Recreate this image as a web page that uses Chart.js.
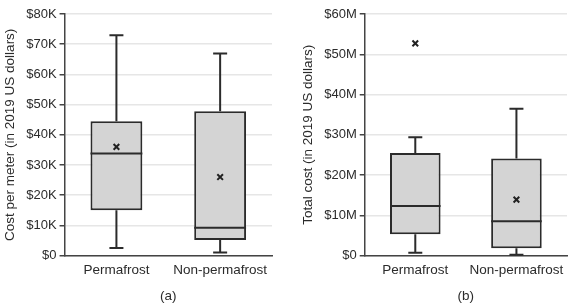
<!DOCTYPE html>
<html>
<head>
<meta charset="utf-8">
<script src="https://cdn.jsdelivr.net/npm/chart.js@4"></script>
<style>
  body { margin: 0; background: #fff; }
  .wrap { position: relative; width: 575px; height: 307px; }
  #chartA { position: absolute; left: 0; top: 0; }
  #chartB { position: absolute; left: 290px; top: 0; }
</style>
</head>
<body>
<div class="wrap">
  <canvas id="chartA" width="290" height="307"></canvas>
  <canvas id="chartB" width="285" height="307"></canvas>
</div>
<script>
const categories = ["Permafrost", "Non-permafrost"];

// (a) cost per meter, dollars
const perMeterMin = [2500, 1000];
const perMeterQ1 = [15000, 5200];
const perMeterMedian = [33800, 9200];
const perMeterQ3 = [44500, 47800];
const perMeterMax = [73000, 66900];
const perMeterMean = [36000, 26000];

// (b) total cost, dollars
const totalMin = [700000, 200000];
const totalQ1 = [5300000, 1800000];
const totalMedian = [12300000, 8500000];
const totalQ3 = [25500000, 24100000];
const totalMax = [29400000, 36500000];
const totalMean = [52700000, 13900000];

const tickLabelsA = ["$0", "$10K", "$20K", "$30K", "$40K", "$50K", "$60K", "$70K", "$80K"];
const tickLabelsB = ["$0", "$10M", "$20M", "$30M", "$40M", "$50M", "$60M"];

const fontFam = "'Liberation Sans', Arial, sans-serif";
const dark = "#2b2b2b";

function makeBoxPlugin(min, median, max) {
  return {
    id: "boxParts",
    beforeDatasetsDraw(chart) {
      const ctx = chart.ctx;
      const y = chart.scales.y;
      const bars = chart.getDatasetMeta(1).data;
      ctx.save();
      ctx.strokeStyle = dark;
      ctx.lineWidth = 2;
      bars.forEach((bar, i) => {
        const top = Math.min(bar.y, bar.base);
        const bot = Math.max(bar.y, bar.base);
        const yMax = y.getPixelForValue(max[i]);
        const yMin = y.getPixelForValue(min[i]);
        ctx.beginPath();
        ctx.moveTo(bar.x, top);
        ctx.lineTo(bar.x, yMax);
        ctx.moveTo(bar.x - 7, yMax);
        ctx.lineTo(bar.x + 7, yMax);
        ctx.moveTo(bar.x, bot);
        ctx.lineTo(bar.x, yMin);
        ctx.moveTo(bar.x - 7, yMin);
        ctx.lineTo(bar.x + 7, yMin);
        ctx.stroke();
      });
      ctx.restore();
    },
    afterDatasetDraw(chart, args) {
      if (args.index !== 1) return;
      const ctx = chart.ctx;
      const y = chart.scales.y;
      const bars = chart.getDatasetMeta(1).data;
      ctx.save();
      ctx.strokeStyle = dark;
      ctx.lineWidth = 2;
      bars.forEach((bar, i) => {
        const ym = y.getPixelForValue(median[i]);
        ctx.beginPath();
        ctx.moveTo(bar.x - bar.width / 2, ym);
        ctx.lineTo(bar.x + bar.width / 2, ym);
        ctx.stroke();
      });
      ctx.restore();
    }
  };
}

function makeChart(id, q1, q3, min, median, max, mean, yMax, step, labels, yTitle, caption, pad) {
  return new Chart(document.getElementById(id), {
    type: "bar",
    data: {
      labels: categories,
      datasets: [
        {
          type: "line",
          data: mean,
          showLine: false,
          pointStyle: "crossRot",
          pointRadius: 4,
          pointBorderWidth: 2,
          borderColor: "#222",
          order: 0
        },
        {
          type: "bar",
          data: categories.map((c, i) => [q1[i], q3[i]]),
          backgroundColor: "#d4d4d4",
          borderColor: dark,
          borderWidth: 2,
          borderSkipped: false,
          barPercentage: 0.5,
          categoryPercentage: 1,
          order: 1
        }
      ]
    },
    options: {
      responsive: false,
      animation: false,
      layout: { padding: pad },
      plugins: {
        legend: { display: false },
        tooltip: { enabled: false }
      },
      scales: {
        x: {
          grid: { color: "transparent", drawTicks: false },
          border: { display: true, color: "#444", width: 1.5 },
          ticks: { color: dark, font: { family: fontFam, size: 13.5 }, padding: 7 },
          title: {
            display: true,
            text: caption,
            color: dark,
            font: { family: fontFam, size: 13.5 },
            padding: { top: 2, bottom: 0 }
          }
        },
        y: {
          min: 0,
          max: yMax,
          grid: { color: "#e6e6e6", tickColor: "#444", tickLength: 5, lineWidth: 1.5 },
          border: { display: true, color: "#444", width: 1.5 },
          ticks: {
            stepSize: step,
            color: dark,
            font: { family: fontFam, size: 13 },
            padding: 3,
            callback: (v) => labels[Math.round(v / step)]
          },
          title: {
            display: true,
            text: yTitle,
            color: dark,
            font: { family: fontFam, size: 13.5 },
            padding: { top: 0, bottom: 5 }
          }
        }
      }
    },
    plugins: [makeBoxPlugin(min, median, max)]
  });
}

makeChart("chartA", perMeterQ1, perMeterQ3, perMeterMin, perMeterMedian, perMeterMax, perMeterMean,
  80000, 10000, tickLabelsA, "Cost per meter (in 2019 US dollars)", "(a)",
  { top: 14, right: 18, left: 2, bottom: 3 });

makeChart("chartB", totalQ1, totalQ3, totalMin, totalMedian, totalMax, totalMean,
  60000000, 10000000, tickLabelsB, "Total cost (in 2019 US dollars)", "(b)",
  { top: 14, right: 8, left: 10, bottom: 3 });
</script>
</body>
</html>
